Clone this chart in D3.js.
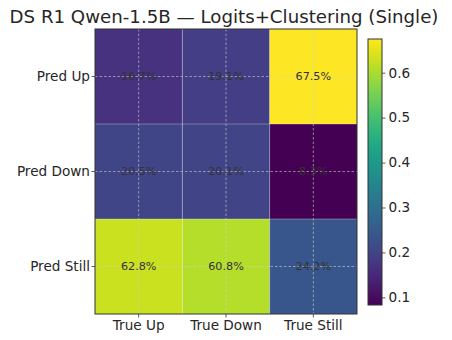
<!DOCTYPE html>
<html>
<head>
<meta charset="utf-8">
<script src="https://cdn.jsdelivr.net/npm/d3@7"></script>
<style>
  body { margin: 0; background: #fff; }
  svg { display: block; font-family: "DejaVu Sans", sans-serif; }
</style>
</head>
<body>
<svg width="452" height="340"></svg>
<script>
const trueLabels = ['True Up', 'True Down', 'True Still'];
const predLabels = ['Pred Up', 'Pred Down', 'Pred Still'];
// rows = predicted, cols = true
const rowUp = [0.167, 0.191, 0.675];
const rowDown = [0.205, 0.201, 0.083];
const rowStill = [0.628, 0.608, 0.242];
const colorTicks = [0.1, 0.2, 0.3, 0.4, 0.5, 0.6];

const matrix = [rowUp, rowDown, rowStill];
const cells = [];
matrix.forEach((row, i) => row.forEach((v, j) => cells.push({pred: predLabels[i], tru: trueLabels[j], v})));

const svg = d3.select('svg');
const plot = {left: 95, right: 357, top: 29, bottom: 314};
const textColor = '#262626';
const tickFont = 13.6;

const vmin = d3.min(cells, d => d.v);
const vmax = d3.max(cells, d => d.v);
const color = d3.scaleSequential(d3.interpolateViridis).domain([vmin, vmax]);

const x = d3.scaleBand().domain(trueLabels).range([plot.left, plot.right]);
const y = d3.scaleBand().domain(predLabels).range([plot.top, plot.bottom]);

// title
svg.append('text')
    .attr('x', 224)
    .attr('y', 23)
    .attr('text-anchor', 'middle')
    .attr('font-size', 18.2)
    .attr('fill', textColor)
    .text('DS R1 Qwen-1.5B \u2014 Logits+Clustering (Single)');

// cells
svg.append('g')
    .selectAll('rect')
    .data(cells)
    .enter().append('rect')
    .attr('x', d => x(d.tru))
    .attr('y', d => y(d.pred))
    .attr('width', x.bandwidth())
    .attr('height', y.bandwidth())
    .attr('fill', d => color(d.v));

// faint cell borders
const inner = svg.append('g')
    .attr('stroke', '#fff')
    .attr('stroke-opacity', 0.3)
    .attr('stroke-width', 1);
trueLabels.slice(1).forEach(t => {
    inner.append('line')
        .attr('x1', x(t)).attr('x2', x(t))
        .attr('y1', plot.top).attr('y2', plot.bottom);
});
predLabels.slice(1).forEach(p => {
    inner.append('line')
        .attr('x1', plot.left).attr('x2', plot.right)
        .attr('y1', y(p)).attr('y2', y(p));
});

// dashed grid at tick centres
const grid = svg.append('g')
    .attr('stroke', '#d0d0d0')
    .attr('stroke-opacity', 0.75)
    .attr('stroke-width', 0.8)
    .attr('stroke-dasharray', '2.5,2');
trueLabels.forEach(t => {
    const cx = x(t) + x.bandwidth() / 2;
    grid.append('line')
        .attr('x1', cx).attr('x2', cx)
        .attr('y1', plot.top).attr('y2', plot.bottom);
});
predLabels.forEach(p => {
    const cy = y(p) + y.bandwidth() / 2;
    grid.append('line')
        .attr('x1', plot.left).attr('x2', plot.right)
        .attr('y1', cy).attr('y2', cy);
});

// cell labels
svg.append('g')
    .selectAll('text')
    .data(cells)
    .enter().append('text')
    .attr('x', d => x(d.tru) + x.bandwidth() / 2)
    .attr('y', d => y(d.pred) + y.bandwidth() / 2)
    .attr('dy', '0.35em')
    .attr('text-anchor', 'middle')
    .attr('font-size', 11.2)
    .attr('fill', '#333')
    .text(d => (d.v * 100).toFixed(1) + '%');

// axes
const xAxis = svg.append('g')
    .attr('transform', `translate(0,${plot.bottom})`)
    .call(d3.axisBottom(x).tickSize(3.5).tickPadding(3));
const yAxis = svg.append('g')
    .attr('transform', `translate(${plot.left},0)`)
    .call(d3.axisLeft(y).tickSize(3.5).tickPadding(1.5));
[xAxis, yAxis].forEach(a => {
    a.select('.domain').remove();
    a.selectAll('line').attr('stroke', '#333').attr('stroke-width', 0.8);
    a.selectAll('text').attr('font-size', tickFont).attr('fill', textColor)
        .attr('font-family', '"DejaVu Sans", sans-serif');
});

// spines
svg.append('rect')
    .attr('x', plot.left)
    .attr('y', plot.top)
    .attr('width', plot.right - plot.left)
    .attr('height', plot.bottom - plot.top)
    .attr('fill', 'none')
    .attr('stroke', '#333')
    .attr('stroke-width', 1);

// colorbar
const cb = {left: 368, width: 14, top: 39, bottom: 305};
const cbScale = d3.scaleLinear().domain([vmin, vmax]).range([cb.bottom, cb.top]);
const defs = svg.append('defs');
const grad = defs.append('linearGradient')
    .attr('id', 'cbgrad')
    .attr('x1', 0).attr('y1', 1).attr('x2', 0).attr('y2', 0);
d3.range(0, 1.0001, 0.05).forEach(t => {
    grad.append('stop')
        .attr('offset', t)
        .attr('stop-color', d3.interpolateViridis(t));
});
svg.append('rect')
    .attr('x', cb.left)
    .attr('y', cb.top)
    .attr('width', cb.width)
    .attr('height', cb.bottom - cb.top)
    .attr('fill', 'url(#cbgrad)')
    .attr('stroke', '#333')
    .attr('stroke-width', 1);

const cbAxis = svg.append('g')
    .attr('transform', `translate(${cb.left + cb.width},0)`)
    .call(d3.axisRight(cbScale).tickValues(colorTicks).tickFormat(d3.format('.1f')).tickSize(3.5).tickPadding(3));
cbAxis.select('.domain').remove();
cbAxis.selectAll('line').attr('stroke', '#333').attr('stroke-width', 0.8);
cbAxis.selectAll('text').attr('font-size', tickFont).attr('fill', textColor)
    .attr('font-family', '"DejaVu Sans", sans-serif');
</script>
</body>
</html>
